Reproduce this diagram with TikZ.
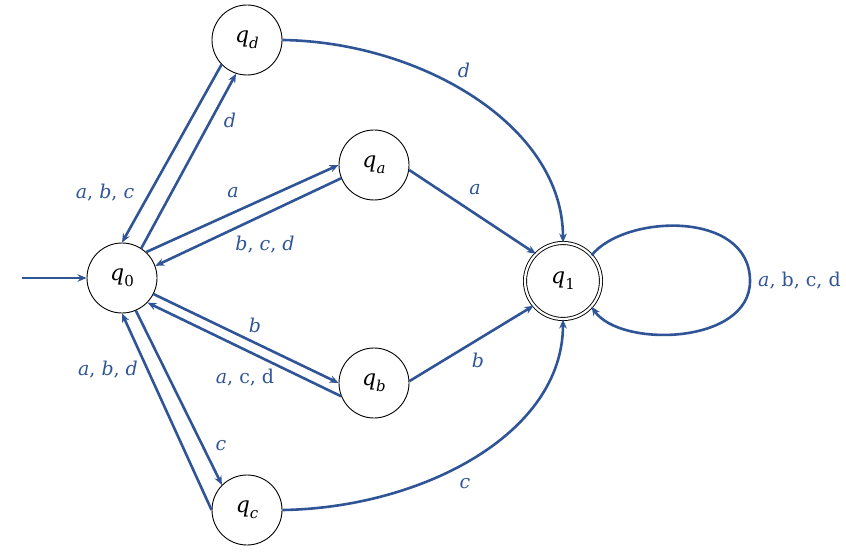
\documentclass[tikz,border=0pt]{standalone}
\usepackage{fontspec}
\setmainfont{DejaVu Serif}
\usetikzlibrary{arrows.meta}
\definecolor{edgeblue}{RGB}{47,85,151}
\newcommand\stlab[1]{\textit{q}\raisebox{-0.28em}{\fontsize{15}{15}\selectfont #1}}
\begin{document}
\begin{tikzpicture}[x=1pt,y=-1pt,
  state/.style={circle,draw=black,line width=0.9pt,minimum size=70pt,inner sep=0pt,font=\fontsize{22}{24}\selectfont},
  accept/.style={state,double=white,double distance=2.2pt,minimum size=76pt},
  edge/.style={draw=edgeblue,line width=2.6pt,-{Stealth[length=9pt,width=7.5pt]}},
  lab/.style={text=edgeblue,font=\fontsize{19}{21}\selectfont,inner sep=0pt}]
\useasboundingbox (0,0) rectangle (846,556);
\node[state] (q0) at (122,278) {\stlab{0}};
\node[state] (qd) at (247,40) {\stlab{\textit{d}}};
\node[state] (qa) at (374,165) {\stlab{\textit{a}}};
\node[state] (qb) at (374,383) {\stlab{\textit{b}}};
\node[state] (qc) at (247,510) {\stlab{\textit{c}}};
\node[accept] (q1) at (563,281) {\stlab{1}};
\coordinate (start) at (22,278);
\coordinate (loopR) at (750,281);
% initial
\draw[edge] (start) -- (q0);
% q0 <-> qd
\draw[edge] (qd.224) -- (q0.90);
\draw[edge] (q0.57) -- (qd.252);
% q0 <-> qa
\draw[edge] (q0.47) -- (qa.180);
\draw[edge] (qa.202) -- (q0.20);
% q0 <-> qb
\draw[edge] (q0.-27) -- (qb.180);
\draw[edge] (qb.202) -- (q0.-44);
% q0 <-> qc
\draw[edge] (qc.180) -- (q0.-90);
\draw[edge] (q0.-67) -- (qc.135);
% to q1
\draw[edge] (qa.-8) -- (q1.135);
\draw[edge] (qb.3) -- (q1.220);
\draw[edge] (qd.0) .. controls (420,42) and (563,125) .. (q1.90);
\draw[edge] (qc.0) .. controls (420,508) and (563,435) .. (q1.-90);
% loop
\draw[edge] (q1.42) .. controls (625,214) and (750,210) .. (loopR)
  .. controls (750,345) and (620,348) .. (q1.-42);
% labels
\node[lab] (ld) at (230,120) {\textit{d}};
\node[lab] (labc) at (105,193) {\textit{a}, \textit{b}, \textit{c}};
\node[lab] (la) at (233,193) {\textit{a}};
\node[lab] (lbcd) at (265,245) {\textit{b}, \textit{c}, \textit{d}};
\node[lab] (lb) at (255,325) {\textit{b}};
\node[lab] (lacd) at (245,378) {\textit{a}, c, d};
\node[lab] (labd) at (108,370) {\textit{a}, \textit{b}, \textit{d}};
\node[lab] (lc) at (221,446) {\textit{c}};
\node[lab] (la1) at (475,190) {\textit{a}};
\node[lab] (lb1) at (478,360) {\textit{b}};
\node[lab] (ld1) at (464,70) {\textit{d}};
\node[lab] (lc1) at (465,484) {\textit{c}};
\node[lab,anchor=west] (lloop) at (758,281) {\textit{a}, b, c, d};
\end{tikzpicture}
\end{document}
